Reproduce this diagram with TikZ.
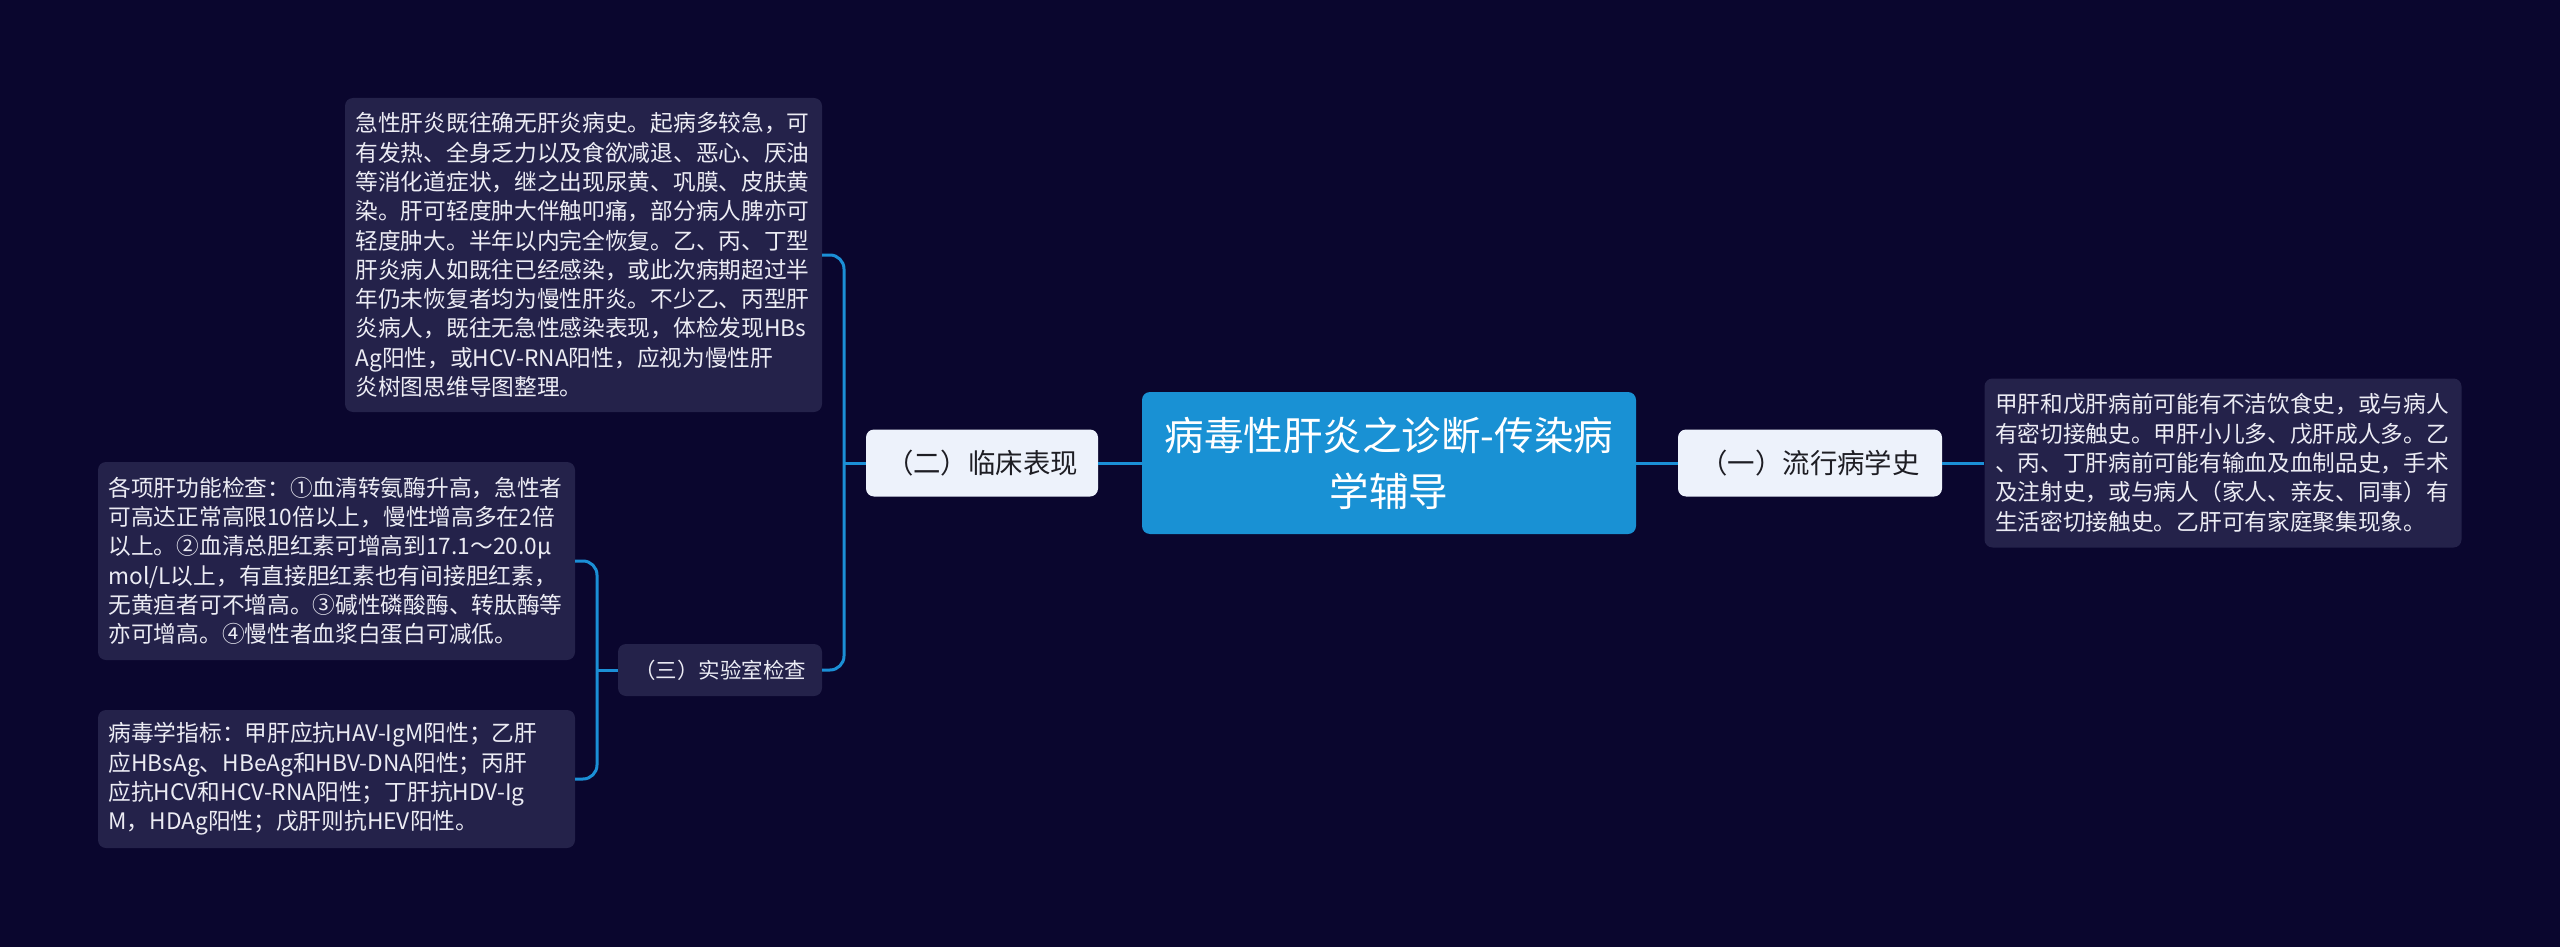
\documentclass[tikz,border=0pt]{standalone}
\usepackage{fontspec}
\setmainfont{Noto Sans CJK SC}
\usepackage{tikz}
\definecolor{bgnavy}{RGB}{10,6,46}
\definecolor{cardfill}{RGB}{36,34,74}
\definecolor{cardtext}{RGB}{236,236,244}
\definecolor{linkblue}{RGB}{27,143,214}
\definecolor{rootblue}{RGB}{25,145,212}
\definecolor{subfill}{RGB}{237,242,251}
\definecolor{subtext}{RGB}{30,30,36}

\begin{document}
\begin{tikzpicture}[x=1pt, y=-1pt,
    link/.style={draw=linkblue, line width=3pt, rounded corners=14pt},
    rootbox/.style={fill=rootblue, rounded corners=8pt, text=white, align=center,
        minimum width=494pt, minimum height=142pt, font=\fontsize{39.5}{56}\selectfont},
    subbox/.style={fill=subfill, rounded corners=8pt, text=subtext,
        minimum height=67pt, font=\fontsize{27.4}{32}\selectfont},
    labbox/.style={fill=cardfill, rounded corners=8pt, text=cardtext,
        minimum width=204pt, minimum height=52pt, font=\fontsize{21.5}{26}\selectfont},
    cardbox/.style={fill=cardfill, rounded corners=8pt, text=cardtext, align=left,
        text width=456pt, inner xsep=10.5pt, font=\fontsize{22.7}{29.3}\selectfont},
  ]
    % background
    \fill[bgnavy] (0,0) rectangle (2560,947);
    \useasboundingbox (0,0) rectangle (2560,947);

    % centre topic
    \node[rootbox] (root) at (1389,463) {病毒性肝炎之诊断-传染病\\学辅导};

    % right branch
    \node[subbox, minimum width=264pt] (epidem) at (1810,463) {（一）流行病学史};
    \node[cardbox, minimum height=169pt] (epidemnote) at (2223,463) {%
        甲肝和戊肝病前可能有不洁饮食史，或与病人\\
        有密切接触史。甲肝小儿多、戊肝成人多。乙\\
        、丙、丁肝病前可能有输血及血制品史，手术\\
        及注射史，或与病人（家人、亲友、同事）有\\
        生活密切接触史。乙肝可有家庭聚集现象。};

    % left branch
    \node[subbox, minimum width=232pt] (clinic) at (982,463) {（二）临床表现};
    \node[cardbox, minimum height=314pt] (clinicnote) at (583.5,255) {%
        急性肝炎既往确无肝炎病史。起病多较急，可\\
        有发热、全身乏力以及食欲减退、恶心、厌油\\
        等消化道症状，继之出现尿黄、巩膜、皮肤黄\\
        染。肝可轻度肿大伴触叩痛，部分病人脾亦可\\
        轻度肿大。半年以内完全恢复。乙、丙、丁型\\
        肝炎病人如既往已经感染，或此次病期超过半\\
        年仍未恢复者均为慢性肝炎。不少乙、丙型肝\\
        炎病人，既往无急性感染表现，体检发现HBs\\
        Ag阳性，或HCV-RNA阳性，应视为慢性肝\\
        炎树图思维导图整理。};
    \node[labbox] (labtest) at (720,670) {（三）实验室检查};

    % lab details
    \node[cardbox, minimum height=198pt] (labliver) at (336.5,561) {%
        各项肝功能检查：①血清转氨酶升高，急性者\\
        可高达正常高限10倍以上，慢性增高多在2倍\\
        以上。②血清总胆红素可增高到17.1～20.0μ\\
        mol/L以上，有直接胆红素也有间接胆红素，\\
        无黄疸者可不增高。③碱性磷酸酶、转肽酶等\\
        亦可增高。④慢性者血浆白蛋白可减低。};
    \node[cardbox, minimum height=138pt] (labvirus) at (336.5,779) {%
        病毒学指标：甲肝应抗HAV-IgM阳性；乙肝\\
        应HBsAg、HBeAg和HBV-DNA阳性；丙肝\\
        应抗HCV和HCV-RNA阳性；丁肝抗HDV-Ig\\
        M，HDAg阳性；戊肝则抗HEV阳性。};

    % connectors
    \coordinate (clinicjoin) at (844,463);
    \coordinate (labjoin) at (597,670);
    \draw[link] (root.east) -- (epidem.west);
    \draw[link] (epidem.east) -- (epidemnote.west);
    \draw[link] (root.west) -- (clinic.east);
    \draw[link] (clinic.west) -- (clinicjoin);
    \draw[link] (clinicnote.east) -| (clinicjoin) |- (labtest.east);
    \draw[link] (labtest.west) -- (labjoin);
    \draw[link] (labliver.east) -| (labjoin) |- (labvirus.east);
\end{tikzpicture}
\end{document}
